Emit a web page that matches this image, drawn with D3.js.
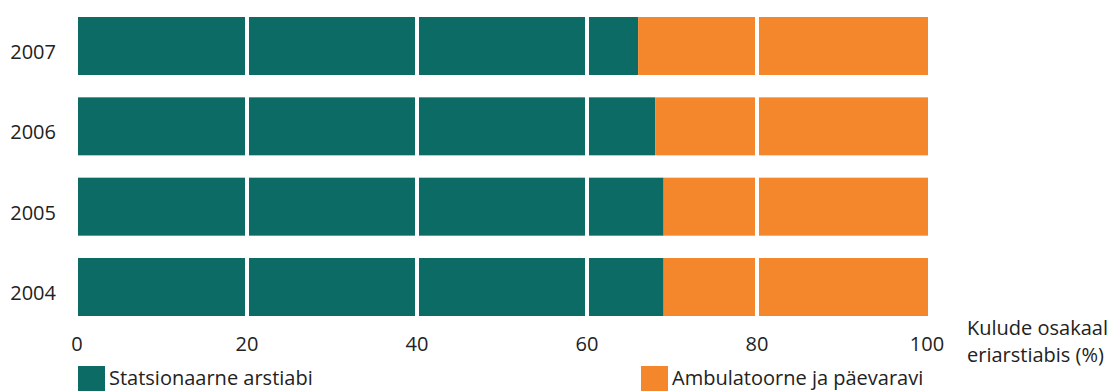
<!DOCTYPE html>
<html>
<head>
<meta charset="utf-8">
<script src="https://cdn.jsdelivr.net/npm/d3@7"></script>
<style>
  body { margin: 0; background: #fff; }
  svg text { font-family: "Open Sans", sans-serif; fill: #222; }
</style>
</head>
<body>
<div id="chart"></div>
<script>
// --- Data ---
const years = ['2007', '2006', '2005', '2004'];
const inpatient = [65.9, 67.9, 68.9, 68.9];   // Statsionaarne arstiabi
const outpatient = inpatient.map(v => 100 - v); // Ambulatoorne ja päevaravi (rest of 100 %)
const xTicks = [0, 20, 40, 60, 80, 100];
const seriesNames = ['Statsionaarne arstiabi', 'Ambulatoorne ja päevaravi'];
const colors = ['#0d6b66', '#f4862b'];

const w = 1111, h = 391;
const x0 = 78, x1 = 928;

const svg = d3.select('#chart').append('svg')
  .attr('width', w)
  .attr('height', h);

const x = d3.scaleLinear().domain([0, 100]).range([x0, x1]);
const y = d3.scaleBand().domain(years).range([17, 316]).paddingInner(0.278).paddingOuter(0);

// Bars
const rows = years.map((yr, i) => ({ year: yr, parts: [inpatient[i], outpatient[i]] }));
const rowG = svg.selectAll('.row')
  .data(rows)
  .enter().append('g')
  .attr('class', 'row');

rowG.each(function (d) {
  let acc = 0;
  const segs = d.parts.map((v, k) => {
    const s = { start: acc, end: acc + v, k };
    acc += v;
    return s;
  });
  d3.select(this).selectAll('rect')
    .data(segs)
    .enter().append('rect')
    .attr('x', s => x(s.start))
    .attr('width', s => x(s.end) - x(s.start))
    .attr('y', y(d.year))
    .attr('height', y.bandwidth())
    .attr('fill', s => colors[s.k]);
});

// White grid lines over the bars
svg.selectAll('.grid')
  .data(xTicks.filter(t => t > 0 && t < 100))
  .enter().append('line')
  .attr('class', 'grid')
  .attr('x1', d => x(d) - 1)
  .attr('x2', d => x(d) - 1)
  .attr('y1', 10)
  .attr('y2', 320)
  .attr('stroke', '#fff')
  .attr('stroke-width', 4);

// Year labels
svg.selectAll('.ylabel')
  .data(years)
  .enter().append('text')
  .attr('class', 'ylabel')
  .attr('x', 56)
  .attr('y', d => y(d) + y.bandwidth() / 2 + 13)
  .attr('text-anchor', 'end')
  .style('font-size', '20px')
  .text(d => d);

// X tick labels
svg.selectAll('.xlabel')
  .data(xTicks)
  .enter().append('text')
  .attr('class', 'xlabel')
  .attr('x', d => x(d) - 1)
  .attr('y', 351)
  .attr('text-anchor', 'middle')
  .style('font-size', '20px')
  .text(d => d);

// Axis title
const title = svg.append('text')
  .attr('x', 967)
  .attr('y', 335)
  .style('font-size', '20px');
title.append('tspan').attr('x', 967).text('Kulude osakaal');
title.append('tspan').attr('x', 967).attr('dy', 27).text('eriarstiabis (%)');

// Legend
const legendX = [78, 641];
const lg = svg.selectAll('.legend')
  .data(seriesNames)
  .enter().append('g')
  .attr('class', 'legend')
  .attr('transform', (d, i) => `translate(${legendX[i]},366)`);
lg.append('rect')
  .attr('width', 27)
  .attr('height', 27)
  .attr('fill', (d, i) => colors[i]);
lg.append('text')
  .attr('x', 31)
  .attr('y', 19)
  .style('font-size', '20px')
  .text(d => d);
</script>
</body>
</html>
